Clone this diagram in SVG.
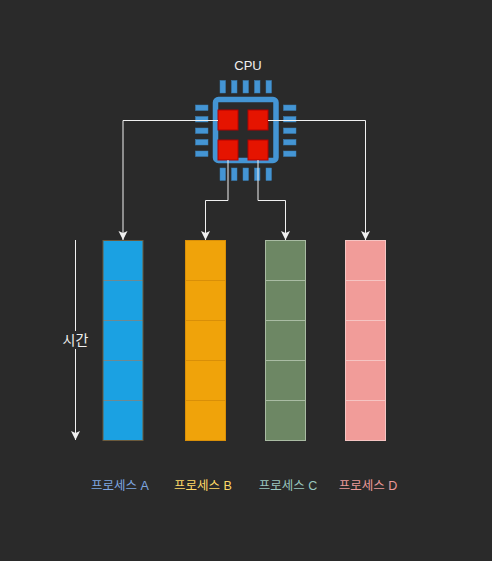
<svg xmlns="http://www.w3.org/2000/svg" width="492" height="561" viewBox="0 0 492 561">
<style>
text{font-family:"Liberation Sans","Noto Sans CJK KR",sans-serif;font-size:12.5px;text-anchor:middle;stroke:none}
.pin{fill:#4495d4;stroke:#3a7fb5;stroke-width:.5}
.core{fill:#e51400;stroke:#b20000;stroke-width:1}
.conn{fill:none;stroke:#f0f0f0;stroke-width:1}
.cell{stroke:none}
.edge{fill:none}
</style>
<defs>
<marker id="arrow" markerUnits="userSpaceOnUse" markerWidth="11" markerHeight="11" refX="9" refY="5" orient="auto">
<path d="M0 .5L9 5L0 9.500L2 5Z" fill="#f0f0f0"/>
</marker>
</defs>
<rect width="492" height="561" fill="#2a2a2a"/>
<g id="cpu">
<text x="248" y="70" fill="#f0f0f0" style="font-size:13px">CPU</text>
<g id="cpu-pins">
<rect class="pin" x="220" y="80.500" width="5.500" height="12.500"/><rect class="pin" x="231.500" y="80.500" width="5.500" height="12.500"/><rect class="pin" x="243" y="80.500" width="5.500" height="12.500"/><rect class="pin" x="254.500" y="80.500" width="5.500" height="12.500"/><rect class="pin" x="266" y="80.500" width="5.500" height="12.500"/>
<rect class="pin" x="220" y="168" width="5.500" height="12.500"/><rect class="pin" x="231.500" y="168" width="5.500" height="12.500"/><rect class="pin" x="243" y="168" width="5.500" height="12.500"/><rect class="pin" x="254.500" y="168" width="5.500" height="12.500"/><rect class="pin" x="266" y="168" width="5.500" height="12.500"/>
<rect class="pin" x="195.500" y="105" width="12.500" height="5.500"/><rect class="pin" x="195.500" y="116.500" width="12.500" height="5.500"/><rect class="pin" x="195.500" y="128" width="12.500" height="5.500"/><rect class="pin" x="195.500" y="139.500" width="12.500" height="5.500"/><rect class="pin" x="195.500" y="151" width="12.500" height="5.500"/>
<rect class="pin" x="283.500" y="105" width="12.500" height="5.500"/><rect class="pin" x="283.500" y="116.500" width="12.500" height="5.500"/><rect class="pin" x="283.500" y="128" width="12.500" height="5.500"/><rect class="pin" x="283.500" y="139.500" width="12.500" height="5.500"/><rect class="pin" x="283.500" y="151" width="12.500" height="5.500"/>
</g>
<rect x="215.500" y="99.500" width="60.500" height="61" rx="3" fill="none" stroke="#4495d4" stroke-width="5.500"/>
<rect class="core" x="218" y="110" width="20" height="20"/><rect class="core" x="248" y="110" width="20" height="20"/><rect class="core" x="218" y="140" width="20" height="20"/><rect class="core" x="248" y="140" width="20" height="20"/>
</g>
<g id="connectors">
<path class="conn" marker-end="url(#arrow)" d="M218 120.500H123V240"/>
<path class="conn" marker-end="url(#arrow)" d="M228 160V200.500H205.500V240"/>
<path class="conn" marker-end="url(#arrow)" d="M258 160V200.500H285.500V240"/>
<path class="conn" marker-end="url(#arrow)" d="M268 120.500H365.500V240"/>
<path class="conn" marker-end="url(#arrow)" d="M75.500 240V440"/>
</g>
<g id="time-label">
<rect x="61" y="331" width="29" height="18" fill="#2a2a2a"/>
<text x="75.500" y="345" fill="#f0f0f0" style="font-size:14px">시간</text>
</g>
<g id="process-a">
<rect class="cell" x="103" y="240" width="40" height="200" fill="#1ba1e2"/>
<path class="edge" stroke="#6e8a92" d="M103 280.500H143M103 320.500H143M103 360.500H143M103 400.500H143"/>
<rect class="edge" x="103" y="240.500" width="40" height="200" stroke="#6b5a3c"/>
<text x="120" y="489.500" fill="#7ea6e0">프로세스 A</text>
</g>
<g id="process-b">
<rect class="cell" x="185.500" y="240" width="40" height="200" fill="#f0a30a"/>
<path class="edge" stroke="#d98f08" d="M185.500 280.500H225.500M185.500 320.500H225.500M185.500 360.500H225.500M185.500 400.500H225.500"/>
<rect class="edge" x="185.500" y="240.500" width="40" height="200" stroke="#d98f08"/>
<text x="203" y="489.500" fill="#ffd966">프로세스 B</text>
</g>
<g id="process-c">
<rect class="cell" x="265.500" y="240" width="40" height="200" fill="#6d8764"/>
<path class="edge" stroke="#a9bba3" d="M265.500 280.500H305.500M265.500 320.500H305.500M265.500 360.500H305.500M265.500 400.500H305.500"/>
<rect class="edge" x="265.500" y="240.500" width="40" height="200" stroke="#a9bba3"/>
<text x="288" y="489.500" fill="#9ac7bf">프로세스 C</text>
</g>
<g id="process-d">
<rect class="cell" x="345.500" y="240" width="40" height="200" fill="#f19c99"/>
<path class="edge" stroke="#f5c4c2" d="M345.500 280.500H385.500M345.500 320.500H385.500M345.500 360.500H385.500M345.500 400.500H385.500"/>
<rect class="edge" x="345.500" y="240.500" width="40" height="200" stroke="#f5c4c2"/>
<text x="368" y="489.500" fill="#ea9999">프로세스 D</text>
</g>
</svg>
